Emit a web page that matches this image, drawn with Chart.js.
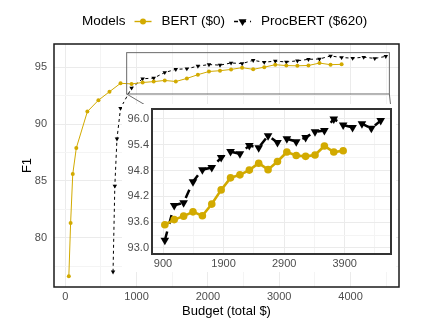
<!DOCTYPE html>
<html>
<head>
<meta charset="utf-8">
<title>Budget vs F1</title>
<script src="https://cdn.jsdelivr.net/npm/chart.js@4/dist/chart.umd.min.js"></script>
<style>
  html, body { margin: 0; padding: 0; background: #fff; }
  #wrap { position: relative; width: 436px; height: 327px; }
  #mainChart { position: absolute; left: 0; top: 0; }
  #insetChart { position: absolute; left: 122px; top: 104px; background: #fff; }
</style>
</head>
<body>
<div id="wrap">
  <canvas id="mainChart" width="436" height="327"></canvas>
  <canvas id="insetChart" width="274" height="168"></canvas>
</div>
<script>
//.. values
const bertBudget = [50, 75, 105, 155, 310, 465, 620, 775, 930, 1085, 1240, 1395, 1550, 1705,
    1860, 2015, 2170, 2325, 2480, 2635, 2790, 2945, 3100, 3255, 3410, 3565, 3720, 3875];
const bertF1 = [76.6, 81.3, 85.6, 87.9, 91.1, 92.1, 92.85, 93.59, 93.54, 93.66, 93.74, 93.84,
    93.75, 94.02, 94.35, 94.63, 94.70, 94.81, 94.97, 94.82, 95.01, 95.23, 95.15, 95.13, 95.16,
    95.37, 95.23, 95.26];

const procBudget = [670, 695, 725, 775, 930, 1085, 1240, 1395, 1550, 1705, 1860, 2015, 2170,
    2325, 2480, 2635, 2790, 2945, 3100, 3255, 3410, 3565, 3720, 3875, 4030, 4185, 4340, 4495];
const procF1 = [77.0, 84.55, 88.7, 91.4, 93.18, 93.99, 94.05, 94.54, 94.82, 94.87, 95.10, 95.24,
    95.19, 95.38, 95.33, 95.61, 95.45, 95.54, 95.47, 95.57, 95.70, 95.73, 96.0, 95.86, 95.80,
    95.89, 95.78, 95.96];

const modelNames = ['BERT ($0)', 'ProcBERT ($620)'];

//.. ticks
const mainXMajor = [0, 1000, 2000, 3000, 4000];
const mainXMinor = [500, 1500, 2500, 3500, 4500];
const mainYMajor = [80, 85, 90, 95];
const mainYMinor = [77.5, 82.5, 87.5, 92.5];
const insetXMajor = [900, 1900, 2900, 3900];
const insetXMinor = [1400, 2400, 3400, 4400];
const insetYMajor = [93.0, 93.6, 94.2, 94.8, 95.4, 96.0];
const insetYMinor = [93.3, 93.9, 94.5, 95.1, 95.7];

//.. zoomed region (data units)
const insetFrom = 900;
const zoomBoxX = [861, 4545];
const zoomBoxY = [92.65, 96.29];

const GOLD = '#D2AA00';
const TICK_GREY = '#4D4D4D';
const FONT = "'Liberation Sans', Arial, sans-serif";
Chart.defaults.font.family = FONT;


//.. build {x, y} points, optionally only from a budget on
function points(xs, ys, from) {
    let out = [];
    xs.forEach(function (x, i) {
        if (from === undefined || x >= from) out.push({x: x, y: ys[i]});
    });
    return out;
}

function isMajor(list, v) {
    return list.some(function (m) { return Math.abs(m - v) < 1e-6; });
}

//.. linear axis with major + minor grid, labels on majors only
function axis(min, max, major, minor, fmt, size, pad, title) {
    return {
        type: 'linear',
        min: min,
        max: max,
        afterBuildTicks: function (scale) {
            scale.ticks = major.concat(minor).sort(function (a, b) { return a - b; })
                .map(function (v) { return {value: v}; });
        },
        afterFit: function (scale) {
            if (scale.isHorizontal()) {
                scale.height = size;
                scale.paddingLeft = 0;
                scale.paddingRight = 0;
            } else {
                scale.width = size;
                scale.paddingTop = 0;
                scale.paddingBottom = 0;
            }
        },
        ticks: {
            autoSkip: false,
            maxRotation: 0,
            padding: pad,
            color: TICK_GREY,
            font: {size: 11},
            callback: function (v) { return isMajor(major, v) ? fmt(v) : ''; }
        },
        grid: {
            drawTicks: false,
            lineWidth: 1,
            color: function (c) {
                return c.tick && isMajor(major, c.tick.value) ? '#EBEBEB' : '#F4F4F4';
            }
        },
        border: {display: false},
        title: title || {display: false}
    };
}

function bertSet(data, lw, r) {
    return {
        label: modelNames[0], data: data, showLine: true,
        borderColor: GOLD, backgroundColor: GOLD, borderWidth: lw,
        pointRadius: r, pointBorderWidth: 0, pointHoverRadius: r
    };
}

function procSet(data, lw, r, dash) {
    return {
        label: modelNames[1], data: data, showLine: true,
        borderColor: '#000', backgroundColor: '#000', borderWidth: lw, borderDash: dash,
        pointStyle: 'triangle', pointRotation: 180,
        pointRadius: r, pointBorderWidth: 0, pointHoverRadius: r
    };
}


//.. inset: border round the panel
const insetFrame = {
    id: 'insetFrame',
    afterDraw: function (chart) {
        const a = chart.chartArea, ctx = chart.ctx;
        ctx.save();
        ctx.strokeStyle = '#333';
        ctx.lineWidth = 2;
        ctx.strokeRect(a.left, a.top, a.right - a.left, a.bottom - a.top);
        ctx.restore();
    }
};

const insetChart = new Chart(document.getElementById('insetChart'), {
    type: 'scatter',
    data: {
        datasets: [
            bertSet(points(bertBudget, bertF1, insetFrom), 2.6, 3.8),
            procSet(points(procBudget, procF1, insetFrom), 2.5, 5, [9, 8])
        ]
    },
    options: {
        responsive: false,
        animation: false,
        devicePixelRatio: 1,
        layout: {padding: {top: 2, right: 5, bottom: 0, left: 0}},
        plugins: {legend: {display: false}, tooltip: {enabled: false}},
        scales: {
            x: axis(718, 4665, insetXMajor, insetXMinor, function (v) { return String(v); }, 18, 3),
            y: axis(92.86, 96.23, insetYMajor, insetYMinor, function (v) { return v.toFixed(1); }, 30, 3)
        }
    },
    plugins: [insetFrame]
});


//.. main: panel border, zoom box, connectors and legend
const mainExtras = {
    id: 'mainExtras',
    afterDraw: function (chart) {
        const ctx = chart.ctx, a = chart.chartArea;
        const xs = chart.scales.x, ys = chart.scales.y;
        const bx0 = xs.getPixelForValue(zoomBoxX[0]), bx1 = xs.getPixelForValue(zoomBoxX[1]);
        const by0 = ys.getPixelForValue(zoomBoxY[1]), by1 = ys.getPixelForValue(zoomBoxY[0]);
        const ic = insetChart.canvas, ia = insetChart.chartArea;

        ctx.save();
        ctx.strokeStyle = '#6b6b6b';
        ctx.lineWidth = 1;
        ctx.strokeRect(bx0, by0, bx1 - bx0, by1 - by0);
        ctx.beginPath();
        ctx.moveTo(bx0, by1);
        ctx.lineTo(ic.offsetLeft + ia.left, ic.offsetTop + ia.top);
        ctx.moveTo(bx1, by1);
        ctx.lineTo(ic.offsetLeft + ia.right, ic.offsetTop + ia.top);
        ctx.stroke();

        ctx.strokeStyle = '#1a1a1a';
        ctx.lineWidth = 1.5;
        ctx.strokeRect(a.left, a.top, a.right - a.left, a.bottom - a.top);

        //.. legend
        const y = 21.5;
        let x = 82;
        ctx.font = '13.5px ' + FONT;
        ctx.textBaseline = 'middle';
        ctx.textAlign = 'left';
        ctx.fillStyle = '#000';
        ctx.fillText('Models', x, y);
        x += ctx.measureText('Models').width + 9;

        chart.data.datasets.forEach(function (ds) {
            const cx = x + 8.5;
            ctx.strokeStyle = ds.borderColor;
            ctx.fillStyle = ds.backgroundColor;
            ctx.lineWidth = 1.4;
            ctx.setLineDash(ds.borderDash ? [4, 4] : []);
            ctx.beginPath();
            ctx.moveTo(x, y);
            ctx.lineTo(x + 17, y);
            ctx.stroke();
            ctx.setLineDash([]);
            ctx.beginPath();
            if (ds.pointStyle === 'triangle') {
                const r = 4.6;
                ctx.moveTo(cx, y + r);
                ctx.lineTo(cx - r * 0.866, y - r / 2);
                ctx.lineTo(cx + r * 0.866, y - r / 2);
                ctx.closePath();
            } else {
                ctx.arc(cx, y, 3, 0, Math.PI * 2);
            }
            ctx.fill();
            x += 27;
            ctx.fillStyle = '#000';
            ctx.fillText(ds.label, x, y);
            x += ctx.measureText(ds.label).width + 9;
        });
        ctx.restore();
    }
};

const mainChart = new Chart(document.getElementById('mainChart'), {
    type: 'scatter',
    data: {
        datasets: [
            bertSet(points(bertBudget, bertF1), 1, 2),
            procSet(points(procBudget, procF1), 1, 2.6, [3, 3])
        ]
    },
    options: {
        responsive: false,
        animation: false,
        devicePixelRatio: 1,
        layout: {padding: {top: 44, right: 37, bottom: 0, left: 0}},
        plugins: {legend: {display: false}, tooltip: {enabled: false}},
        scales: {
            x: axis(-158, 4680, mainXMajor, mainXMinor, function (v) { return String(v); }, 40, 3,
                {display: true, text: 'Budget (total $)', color: '#000', font: {size: 13},
                 padding: {top: 0, bottom: 7.5}}),
            y: axis(75.66, 97.05, mainYMajor, mainYMinor, function (v) { return String(v); }, 54, 7,
                {display: true, text: 'F1', color: '#000', font: {size: 13},
                 padding: {top: 20, bottom: 0}})
        }
    },
    plugins: [mainExtras]
});
</script>
</body>
</html>
